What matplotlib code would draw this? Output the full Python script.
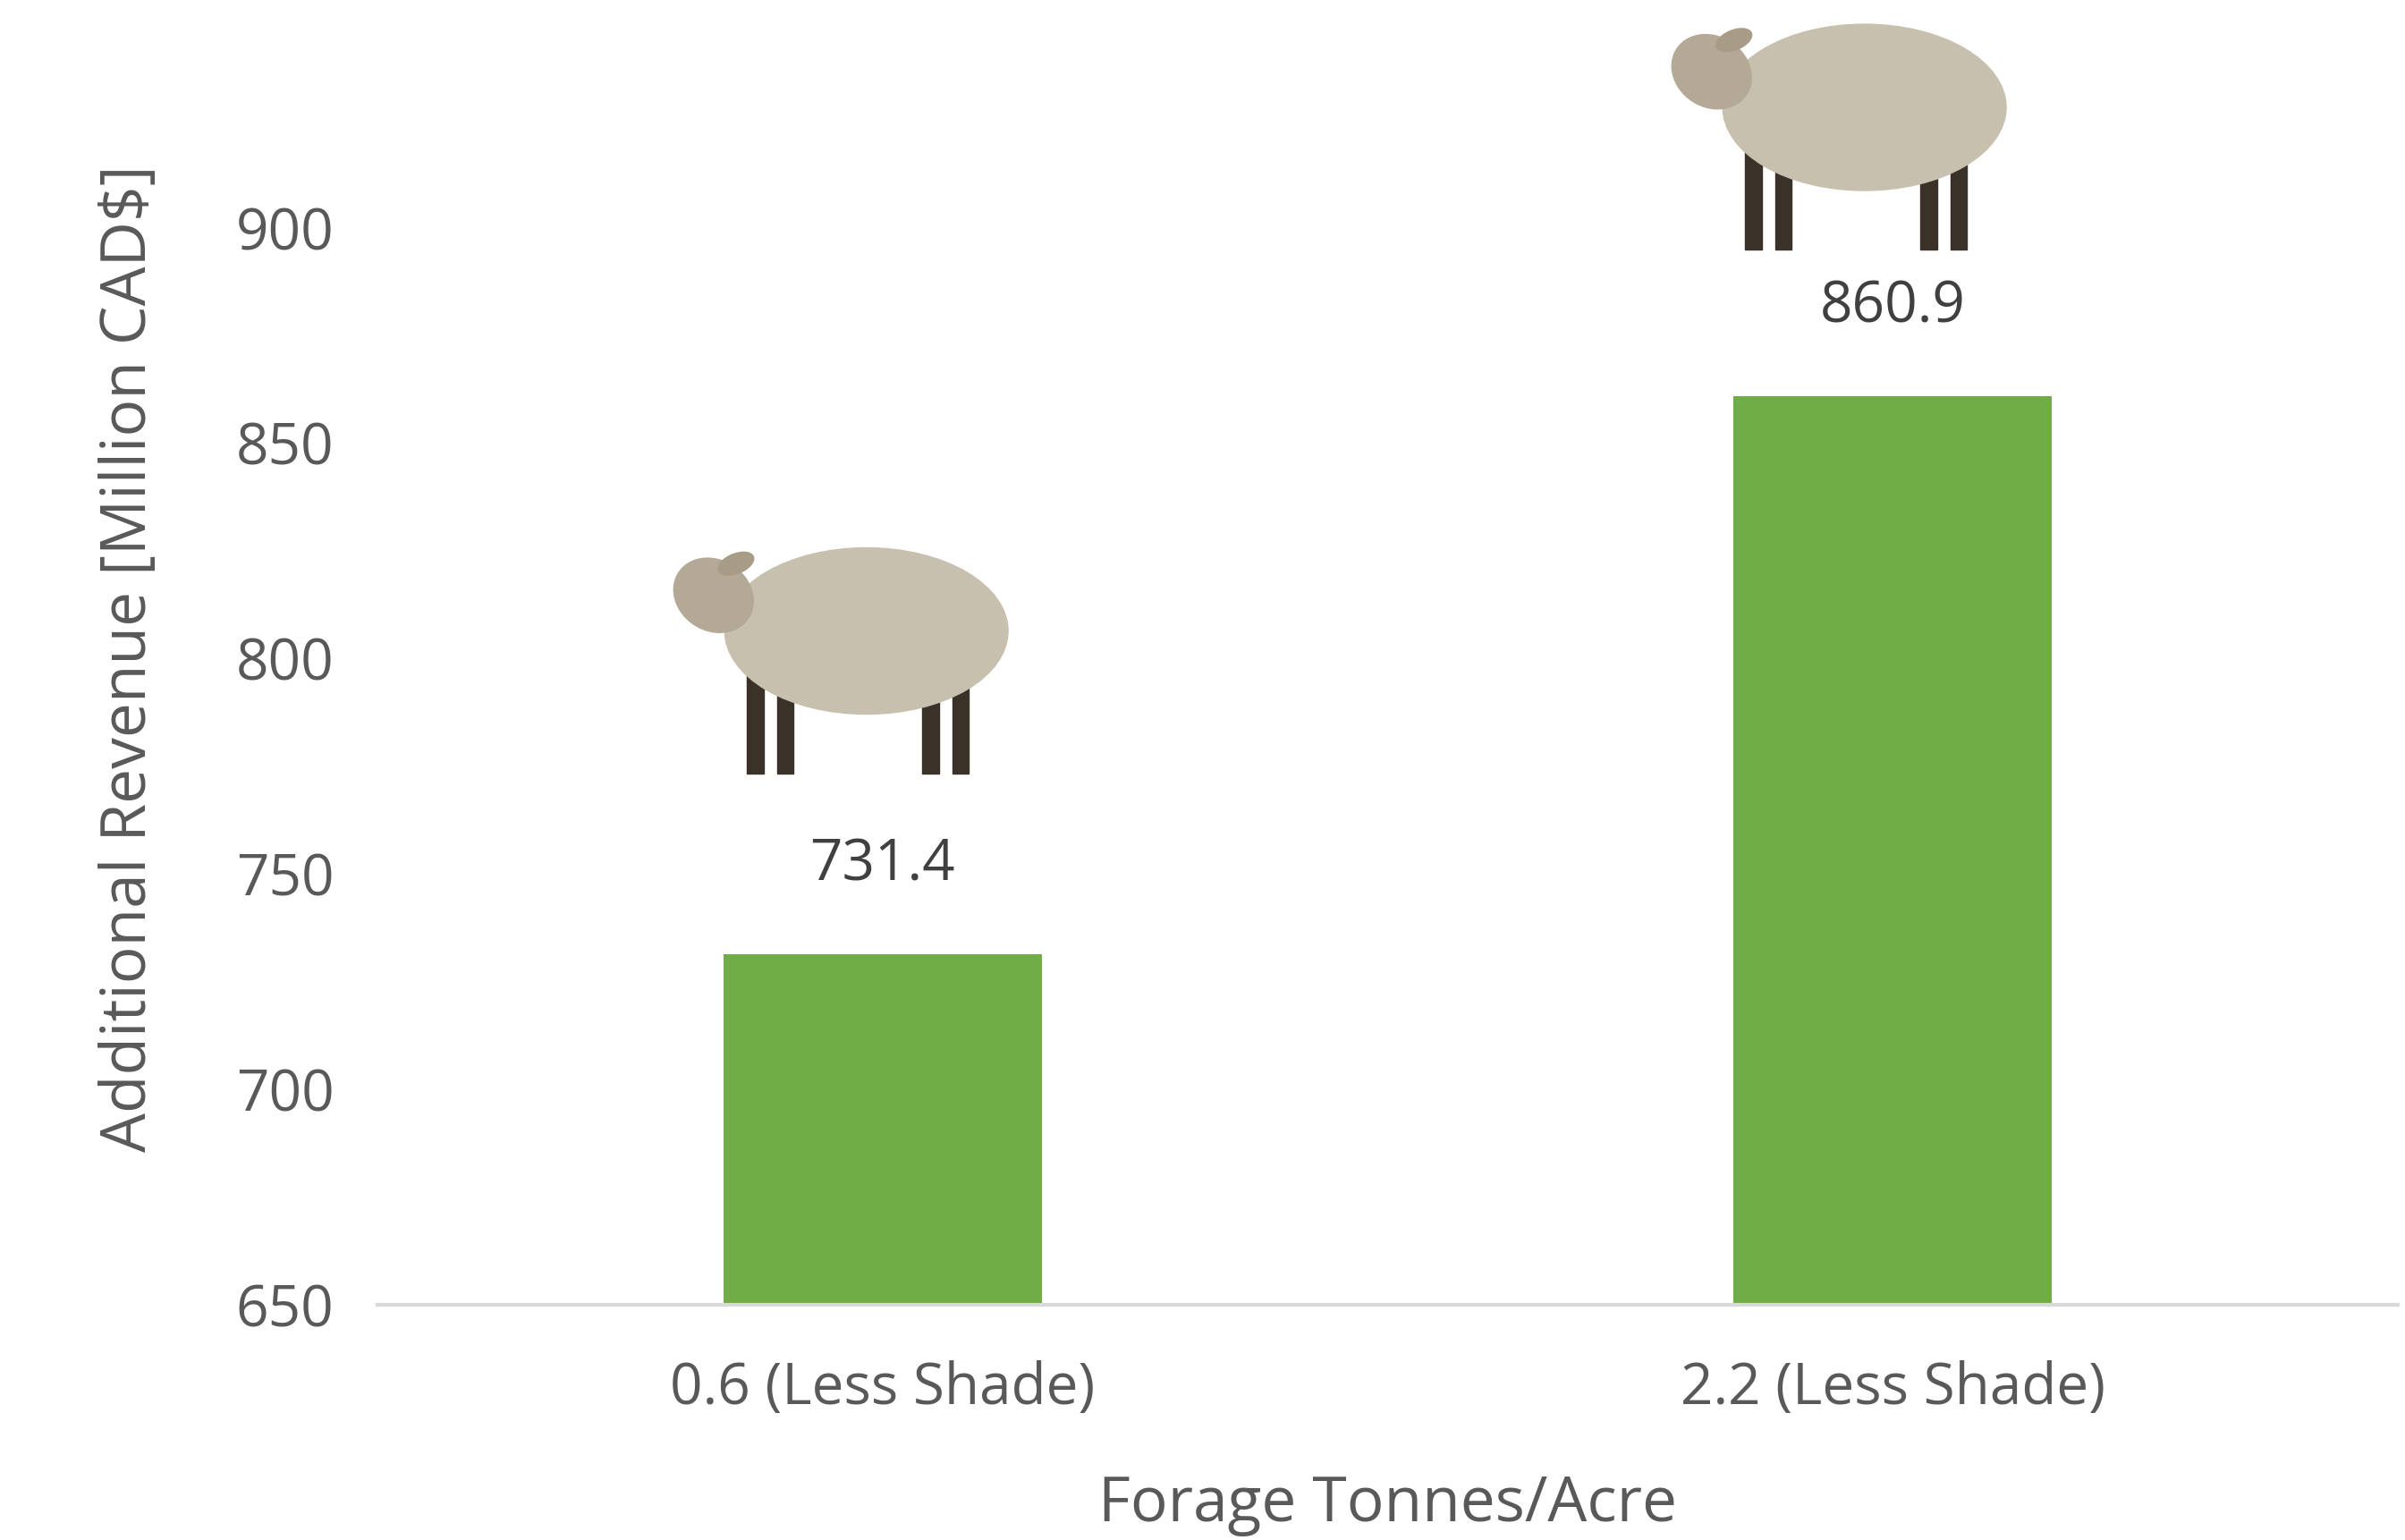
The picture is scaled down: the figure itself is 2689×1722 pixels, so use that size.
import matplotlib.pyplot as plt
from matplotlib.patches import Ellipse, Rectangle

plt.rcParams['font.family'] = ['Open Sans', 'DejaVu Sans']

categories = ["0.6 (Less Shade)", "2.2 (Less Shade)"]
values = [731.4, 860.9]
yticks = [650, 700, 750, 800, 850, 900]

fig = plt.figure(figsize=(26.89, 17.22), dpi=100)
ax = fig.add_axes([0.157, 0.153, 0.84, 0.839])
x = range(len(categories))
ax.bar(x, values, width=0.315, color='#70ad47', zorder=2)
ax.set_xlim(-0.5, 1.5)
ax.set_ylim(650, 950)
ax.set_yticks(yticks)
ax.set_xticks(list(x))
ax.set_xticklabels(categories)
ax.tick_params(axis='y', length=0, labelsize=46, colors='#595959', pad=35)
ax.tick_params(axis='x', length=0, labelsize=46, colors='#595959', pad=45)
for s in ['top', 'right', 'left']:
    ax.spines[s].set_visible(False)
ax.spines['bottom'].set_color('#d9d9d9')
ax.spines['bottom'].set_linewidth(3)
ax.set_ylabel('Additional Revenue [Million CAD$]', fontsize=50, color='#595959', labelpad=60)
ax.set_xlabel('Forage Tonnes/Acre', fontsize=50, color='#595959', labelpad=45)

for xi, v in zip(x, values):
    ax.text(xi, v + 14, f"{v:.1f}", ha='center', va='bottom', fontsize=46, color='#404040')

# simple sheep sketches (decorative) in their own small axes
def sheep(left, bottom, w, h):
    sa = fig.add_axes([left, bottom, w, h])
    sa.set_xlim(0, 10)
    sa.set_ylim(0, 7)
    sa.axis('off')
    for lx in (2.3, 3.1, 7.0, 7.8):
        sa.add_patch(Rectangle((lx, 0.3), 0.45, 3.0, color='#3a3228'))
    sa.add_patch(Ellipse((5.5, 3.9), 7.6, 4.2, color='#c8c0ae'))
    sa.add_patch(Ellipse((1.4, 4.8), 2.2, 1.8, angle=-25, color='#b3a996'))
    sa.add_patch(Ellipse((2.0, 5.6), 1.0, 0.5, angle=20, color='#a89c86'))

sheep(0.275, 0.49, 0.155, 0.18)
sheep(0.69, 0.83, 0.155, 0.18)

fig.savefig('out.png', dpi=100)
